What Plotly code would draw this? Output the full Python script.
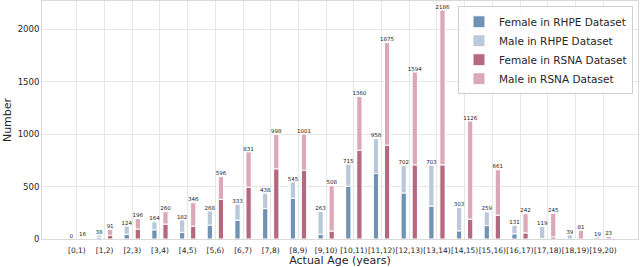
import numpy as np
import plotly.graph_objects as go

categories = ["[0,1)", "[1,2)", "[2,3)", "[3,4)", "[4,5)", "[5,6)", "[6,7)", "[7,8)", "[8,9)", "[9,10)",
              "[10,11)", "[11,12)", "[12,13)", "[13,14)", "[14,15)", "[15,16)", "[16,17)", "[17,18)", "[18,19)", "[19,20)"]

rhpe_total = [0, 38, 124, 164, 182, 268, 333, 438, 545, 263, 715, 958, 702, 703, 303, 259, 131, 119, 39, 19]
rhpe_female = [0, 18, 45, 88, 64, 133, 180, 290, 390, 45, 505, 625, 440, 315, 78, 128, 50, 5, 0, 0]
rsna_total = [16, 91, 196, 260, 346, 596, 831, 998, 1001, 508, 1360, 1875, 1594, 2186, 1126, 661, 242, 245, 81, 23]
rsna_female = [6, 35, 95, 142, 123, 378, 495, 670, 655, 76, 848, 895, 708, 708, 190, 228, 58, 20, 0, 0]

rhpe_male = [t - f for t, f in zip(rhpe_total, rhpe_female)]
rsna_male = [t - f for t, f in zip(rsna_total, rsna_female)]

idx = np.arange(len(categories))
x_rhpe = idx - 0.2
x_rsna = idx + 0.2
bw = 0.19

c_f_rhpe = "#7092b4"
c_m_rhpe = "#b9c9da"
c_f_rsna = "#b5697f"
c_m_rsna = "#dba8b7"

font = "DejaVu Sans"
line = dict(color="white", width=1)

fig = go.Figure()
fig.add_trace(go.Bar(x=x_rhpe, y=rhpe_female, width=bw, marker=dict(color=c_f_rhpe, line=line),
                     name="Female in RHPE Dataset"))
fig.add_trace(go.Bar(x=x_rhpe, y=rhpe_male, base=rhpe_female, width=bw, marker=dict(color=c_m_rhpe, line=line),
                     name="Male in RHPE Dataset"))
fig.add_trace(go.Bar(x=x_rsna, y=rsna_female, width=bw, marker=dict(color=c_f_rsna, line=line),
                     name="Female in RSNA Dataset"))
fig.add_trace(go.Bar(x=x_rsna, y=rsna_male, base=rsna_female, width=bw, marker=dict(color=c_m_rsna, line=line),
                     name="Male in RSNA Dataset"))

fig.add_trace(go.Scatter(x=np.concatenate([x_rhpe, x_rsna]), y=rhpe_total + rsna_total,
                         mode="text", text=[str(v) for v in rhpe_total + rsna_total],
                         textposition="top center", textfont=dict(size=5.5, color="#222", family=font),
                         showlegend=False, hoverinfo="skip", cliponaxis=False))

fig.update_layout(
    width=640, height=267,
    margin=dict(l=42, r=2, t=1, b=28, autoexpand=False),
    barmode="overlay",
    plot_bgcolor="white", paper_bgcolor="white",
    font=dict(family=font, size=11, color="#262626"),
    legend=dict(x=0.9916, y=0.978, xanchor="right", yanchor="top",
                bgcolor="rgba(255,255,255,0.85)", bordercolor="#d0d0d0", borderwidth=1,
                font=dict(size=10.5, family=font), tracegroupgap=0, itemwidth=30),
    showlegend=True,
)
fig.update_xaxes(range=[-1.26, 20.26], tickvals=idx, ticktext=categories, tickfont=dict(size=7.5),
                 tickangle=0, automargin=False, ticklabelstandoff=4,
                 showgrid=True, gridcolor="#e6e6e6", gridwidth=1, zeroline=False,
                 showline=True, linecolor="#d9d9d9", mirror=True, ticks="",
                 title=dict(text="Actual Age (years)", font=dict(size=11), standoff=0))
fig.update_yaxes(range=[0, 2272], tickvals=[0, 500, 1000, 1500, 2000], tickfont=dict(size=8.5),
                 automargin=False,
                 showgrid=True, gridcolor="#e6e6e6", gridwidth=1, zeroline=False,
                 showline=True, linecolor="#d9d9d9", mirror=True, ticks="",
                 title=dict(text="Number", font=dict(size=11), standoff=3))

fig.write_html("out.html", config={"displayModeBar": False},
               post_script="document.body.style.margin='0';document.body.style.padding='0';")
